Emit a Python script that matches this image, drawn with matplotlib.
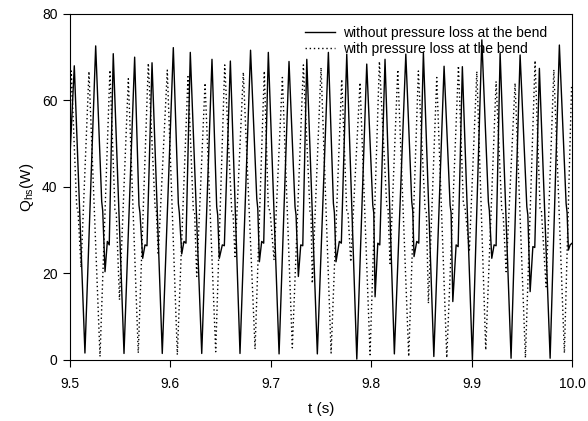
import matplotlib.pyplot as plt

plt.rcParams["font.family"] = ["Liberation Sans", "DejaVu Sans"]
plt.rcParams["mathtext.default"] = "regular"

# without pressure loss at the bend (solid)
t_nobend = [9.5000, 9.5043, 9.5149, 9.5256, 9.5316, 9.5326, 9.5349, 9.5372, 9.5391, 9.5431,
            9.5538, 9.5644, 9.5687, 9.5697, 9.5724, 9.5747, 9.5767, 9.5817,
            9.5919, 9.6029, 9.6079, 9.6089, 9.6113, 9.6135, 9.6155, 9.6198,
            9.6312, 9.6414, 9.6461, 9.6471, 9.6487, 9.6517, 9.6537, 9.6597,
            9.6693, 9.6798, 9.6860, 9.6870, 9.6886, 9.6909, 9.6929, 9.6975,
            9.7082, 9.7181, 9.7241, 9.7251, 9.7274, 9.7298, 9.7318, 9.7358,
            9.7463, 9.7573, 9.7623, 9.7633, 9.7649, 9.7682, 9.7702, 9.7756,
            9.7856, 9.7955, 9.8015, 9.8025, 9.8038, 9.8065, 9.8085, 9.8137,
            9.8230, 9.8344, 9.8403, 9.8413, 9.8426, 9.8453, 9.8473, 9.8519,
            9.8623, 9.8725, 9.8785, 9.8795, 9.8812, 9.8845, 9.8865, 9.8907,
            9.9007, 9.9101, 9.9166, 9.9176, 9.9200, 9.9223, 9.9243, 9.9283,
            9.9392, 9.9482, 9.9549, 9.9559, 9.9582, 9.9609, 9.9628, 9.9674,
            9.9781, 9.9873, 9.9940, 9.9950, 9.9963, 9.9980, 10.0000]
q_nobend = [47.0, 68.0, 1.6, 72.6, 36.6, 34.5, 20.4, 27.4, 26.6, 70.8,
            1.5, 70.0, 35.8, 34.0, 23.5, 26.6, 26.4, 68.7,
            1.5, 72.2, 36.2, 34.0, 24.5, 27.4, 27.0, 71.1,
            1.5, 69.5, 35.4, 33.5, 23.5, 26.6, 26.4, 69.1,
            1.5, 71.6, 37.3, 35.0, 22.7, 27.4, 27.0, 71.1,
            1.4, 69.0, 35.4, 33.5, 19.3, 26.6, 26.4, 69.5,
            1.4, 71.1, 36.2, 34.0, 22.7, 27.4, 27.0, 70.7,
            0.2, 68.4, 35.8, 34.0, 14.6, 27.0, 26.6, 69.5,
            1.4, 70.7, 36.6, 34.5, 23.9, 27.4, 27.0, 71.1,
            0.8, 67.9, 35.8, 34.0, 13.5, 26.6, 26.2, 67.8,
            0.0, 74.0, 36.6, 34.5, 23.5, 26.6, 26.4, 70.9,
            0.4, 70.5, 35.4, 33.5, 15.8, 26.2, 26.0, 67.4,
            0.4, 72.8, 36.2, 34.0, 25.4, 26.6, 27.0]

# with pressure loss at the bend (dotted)
t_bend = [9.5000, 9.5013, 9.5067, 9.5080, 9.5110, 9.5189, 9.5299,
          9.5398, 9.5448, 9.5461, 9.5493, 9.5581, 9.5680,
          9.5780, 9.5847, 9.5860, 9.5879, 9.5969, 9.6069,
          9.6175, 9.6228, 9.6241, 9.6262, 9.6345, 9.6451,
          9.6541, 9.6611, 9.6624, 9.6643, 9.6726, 9.6843,
          9.6935, 9.6975, 9.6992, 9.7032, 9.7115, 9.7214,
          9.7324, 9.7390, 9.7400, 9.7413, 9.7500, 9.7600,
          9.7706, 9.7756, 9.7769, 9.7796, 9.7888, 9.7988,
          9.8081, 9.8154, 9.8167, 9.8187, 9.8264, 9.8373,
          9.8469, 9.8536, 9.8549, 9.8569, 9.8652, 9.8752,
          9.8868, 9.8917, 9.8934, 9.8977, 9.9051, 9.9140,
          9.9243, 9.9300, 9.9313, 9.9343, 9.9432, 9.9535,
          9.9631, 9.9681, 9.9694, 9.9741, 9.9818, 9.9923,
          9.9995]
q_bend = [56.0, 66.8, 35.4, 34.5, 21.4, 66.7, 0.8,
          67.0, 34.7, 34.0, 13.9, 65.0, 1.6,
          68.6, 35.4, 34.5, 24.3, 67.0, 1.2,
          65.5, 34.7, 34.0, 19.3, 64.0, 1.9,
          68.2, 34.3, 33.8, 23.9, 66.5, 2.5,
          66.8, 35.0, 34.5, 23.1, 65.3, 2.8,
          68.2, 34.3, 33.8, 17.7, 67.6, 1.6,
          64.9, 34.3, 33.8, 22.7, 64.1, 1.2,
          69.0, 35.8, 35.0, 22.3, 67.1, 0.8,
          66.8, 34.7, 34.0, 13.1, 65.3, 0.5,
          68.0, 36.2, 35.0, 25.4, 66.7, 2.3,
          64.4, 34.3, 33.8, 20.4, 64.0, 0.5,
          69.2, 35.0, 34.5, 16.9, 67.1, 1.6,
          63.6]

xticks = [9.5, 9.6, 9.7, 9.8, 9.9, 10.0]
yticks = [0, 20, 40, 60, 80]

fig = plt.figure(figsize=(5.88, 4.21), dpi=100)
ax = fig.add_axes([0.119, 0.145, 0.854, 0.822])

ax.plot(t_nobend, q_nobend, color="black", lw=1.0, label="without pressure loss at the bend")
ax.plot(t_bend, q_bend, color="black", lw=1.0, linestyle=(0, (1, 2)),
        label="with pressure loss at the bend")

ax.set_xlim(9.5, 10.0)
ax.set_ylim(0, 80)
ax.set_xticks(xticks)
ax.set_xticklabels(["%.1f" % v for v in xticks])
ax.set_yticks(yticks)
ax.tick_params(direction="out", length=5, width=0.8, labelsize=10, pad=4,
               top=False, right=False)
ax.tick_params(axis="x", pad=7)
for s in ax.spines.values():
    s.set_linewidth(0.8)

ax.set_xlabel("t (s)", fontsize=11, labelpad=8)
ax.set_ylabel("Q$_{hs}$(W)", fontsize=11, labelpad=4)

ax.legend(loc="upper left", bbox_to_anchor=(0.445, 0.997), frameon=False, fontsize=10,
          handlelength=2.2, handletextpad=0.6, labelspacing=0.15, borderpad=0.3)

fig.savefig("out.png", dpi=100)
